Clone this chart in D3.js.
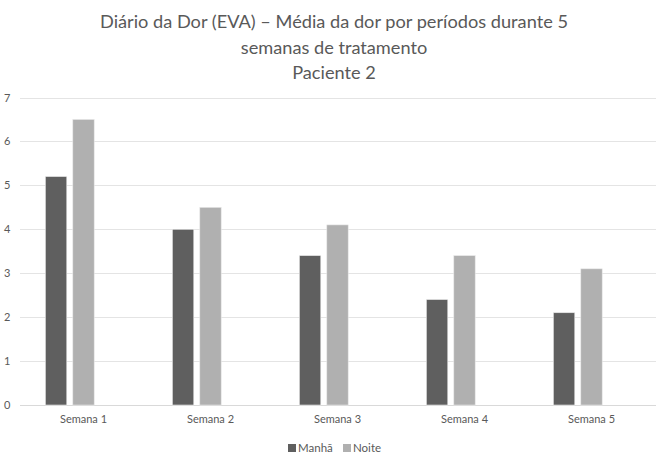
<!DOCTYPE html>
<html>
<head>
<meta charset="utf-8">
<script src="https://cdn.jsdelivr.net/npm/d3@7/dist/d3.min.js"></script>
<style>
  html, body { margin: 0; padding: 0; background: #fff; }
  svg { display: block; font-family: Lato, "Open Sans", sans-serif; }
</style>
</head>
<body>
<svg id="chart" width="656" height="455"></svg>
<script>
// Weekly pain diary averages (VAS 0-10), morning vs night
const categories = ["Semana 1", "Semana 2", "Semana 3", "Semana 4", "Semana 5"];
const manha = [5.2, 4.0, 3.4, 2.4, 2.1];
const noite = [6.5, 4.5, 4.1, 3.4, 3.1];
const seriesNames = ["Manhã", "Noite"];
const yTicks = [0, 1, 2, 3, 4, 5, 6, 7];
const titleLines = [
  "Diário da Dor (EVA) – Média da dor por períodos durante 5",
  "semanas de tratamento",
  "Paciente 2"
];

const colors = { "Manhã": "#5f5f5f", "Noite": "#b0b0b0" };
const textColor = "#595959";

const svg = d3.select("#chart");
const margin = { left: 20, right: 1, top: 97.5, bottom: 50 };
const W = 656, H = 455;
const plotBottom = H - margin.bottom; // 405

const x = d3.scaleBand().domain(categories).range([margin.left, W - margin.right]).paddingInner(0).paddingOuter(0);
// three slots per category; the third slot is left empty
const slots = [...seriesNames, "_"];
const x1 = d3.scaleBand().domain(slots).range([x.bandwidth() * 0.2, x.bandwidth() * 0.8]).paddingInner(0.22).paddingOuter(0);
const y = d3.scaleLinear().domain([0, 7]).range([plotBottom, margin.top]);

// title
svg.append("g").selectAll("text").data(titleLines).join("text")
  .attr("x", 334).attr("y", (d, i) => 28 + i * 25.5)
  .attr("text-anchor", "middle")
  .attr("font-size", 18.2)
  .attr("fill", textColor)
  .text(d => d);

// gridlines
svg.append("g").selectAll("line").data(yTicks).join("line")
  .attr("x1", margin.left).attr("x2", W)
  .attr("y1", d => Math.round(y(d)) + 0.5).attr("y2", d => Math.round(y(d)) + 0.5)
  .attr("stroke", d => d === 0 ? "#d9d9d9" : "#e4e4e4").attr("stroke-width", 1);

// y axis labels
const yAxis = d3.axisLeft(y).tickValues(yTicks).tickFormat(d3.format("d")).tickSize(0).tickPadding(0);
const yg = svg.append("g").attr("transform", `translate(4,0)`).call(yAxis);
yg.select(".domain").remove();
yg.selectAll("text").attr("font-size", 11).attr("fill", textColor)
  .attr("text-anchor", "start")
  .attr("font-family", "Lato, 'Open Sans', sans-serif");

// x axis labels
const xAxis = d3.axisBottom(x).tickSize(0).tickPadding(0);
const xg = svg.append("g").attr("transform", `translate(0,${plotBottom + 10})`).call(xAxis);
xg.select(".domain").remove();
xg.selectAll("text").attr("font-size", 11).attr("fill", textColor)
  .attr("font-family", "Lato, 'Open Sans', sans-serif");

// bars
const rows = categories.map((c, i) => ({ cat: c, values: [
  { key: "Manhã", value: manha[i] },
  { key: "Noite", value: noite[i] }
]}));

svg.append("g").selectAll("g").data(rows).join("g")
  .attr("transform", d => `translate(${x(d.cat)},0)`)
  .selectAll("rect").data(d => d.values).join("rect")
  .attr("x", d => x1(d.key))
  .attr("width", x1.bandwidth())
  .attr("y", d => y(d.value))
  .attr("height", d => y(0) - y(d.value))
  .attr("fill", d => colors[d.key])
  .attr("stroke", "#e8e8e8").attr("stroke-width", 0.6);

// legend
const legend = svg.append("g").attr("transform", "translate(288,448)");
const legendX = [0, 55];
seriesNames.forEach((s, i) => {
  const g = legend.append("g").attr("transform", `translate(${legendX[i]},0)`);
  g.append("rect").attr("x", 0).attr("y", -4).attr("width", 8).attr("height", 8).attr("fill", colors[s]);
  g.append("text").attr("x", 10).attr("y", 4).attr("font-size", 11.5).attr("fill", textColor).text(s);
});
</script>
</body>
</html>
